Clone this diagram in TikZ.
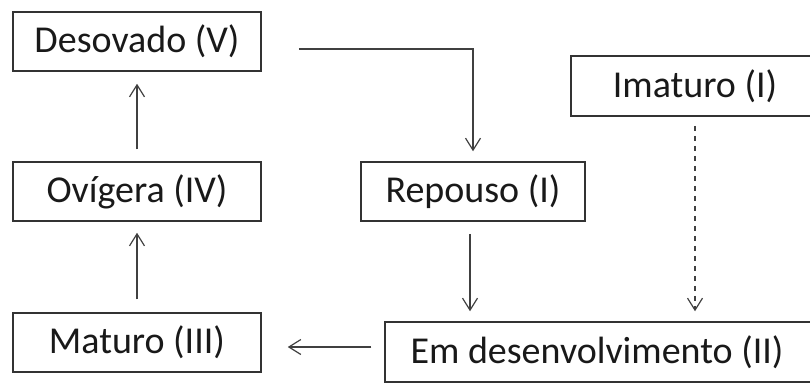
\documentclass[tikz,border=0pt]{standalone}
\usepackage{fontspec}
\setmainfont{Carlito}
\usetikzlibrary{arrows.meta,calc}
\definecolor{linegray}{HTML}{404040}
\begin{document}
\begin{tikzpicture}[x=1pt,y=-1pt,
  stage/.style={draw=linegray!80!black,line width=1.5pt,inner sep=0pt,
    minimum height=59pt,font=\fontsize{38}{40}\selectfont,text=black!90},
  flow/.style={draw=linegray,line width=2.2pt,
    -{Straight Barb[length=12pt,width=15pt,line width=1.2pt]}},
  flowdash/.style={flow,line width=1.8pt,dash pattern=on 5pt off 5pt}]
\useasboundingbox (0,0) rectangle (810,383);

% stages of the reproductive cycle
\node[stage,minimum width=248pt] (des) at (137,41.5) {Desovado (V)};
\node[stage,minimum width=248pt] (ov)  at (137,191.5) {Ovígera (IV)};
\node[stage,minimum width=248pt] (mat) at (137,342.5) {Maturo (III)};
\node[stage,minimum width=224pt] (rep) at (473,191.5) {Repouso (I)};
\node[stage,minimum width=248pt,minimum height=60pt] (im) at (695,86) {Imaturo (I)};
\node[stage,minimum width=434pt,minimum height=60pt] (em) at (602,352)
  {\hspace*{-10pt}Em desenvolvimento (II)};

% transitions
\draw[flow,shorten <=12pt,shorten >=12pt] (ov.north) -- (des.south);
\draw[flow,shorten <=13pt,shorten >=11pt] (mat.north) -- (ov.south);
\draw[flow,shorten >=10pt] ([xshift=37pt,yshift=-7.5pt]des.east) -| (rep.north);
\draw[flow,shorten <=12pt,shorten >=10pt] ([xshift=-3pt]rep.south) -- ([xshift=-3pt]rep.south |- em.north);
\draw[flowdash,shorten <=9pt,shorten >=10pt] (im.south) -- (im.south |- em.north);
\coordinate (emw) at ($(em.west)+(0,-5)$);
\draw[flow,shorten <=13pt,shorten >=26pt] (emw) -- (emw -| mat.east);
\end{tikzpicture}
\end{document}
